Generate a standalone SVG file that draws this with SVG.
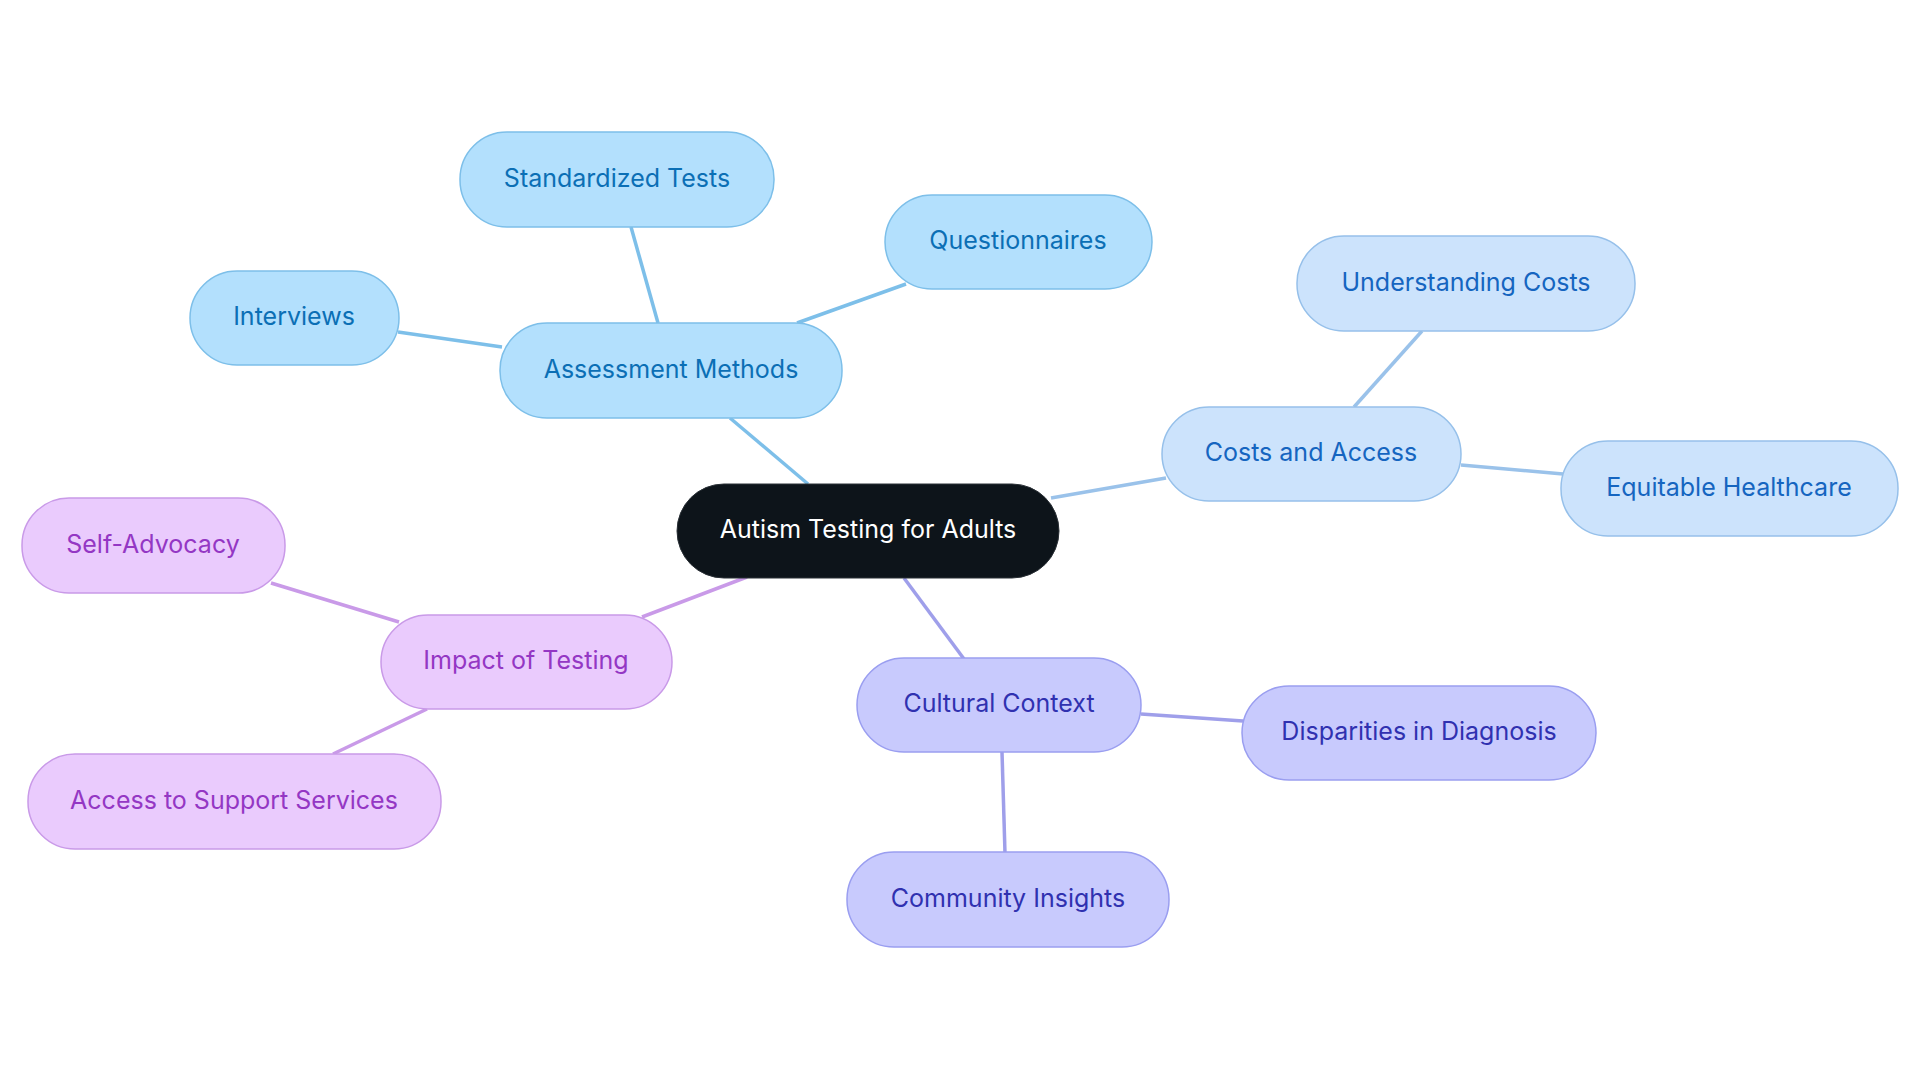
<svg xmlns="http://www.w3.org/2000/svg" width="1920" height="1083" viewBox="0 0 1920 1083">
<style>
text{font-family:Inter,"Noto Sans",sans-serif;font-size:25px;text-anchor:middle;dominant-baseline:central}
.n rect{stroke-width:1.5}
.a rect{fill:#b3e0fd;stroke:#7dbfe9}.a text{fill:#0b6fb5}
.c rect{fill:#cce3fc;stroke:#96c0ea}.c text{fill:#1565c0}
.u rect{fill:#c8cafd;stroke:#9a9ef0}.u text{fill:#3031b0}
.i rect{fill:#eacbfd;stroke:#c99ae8}.i text{fill:#9437c4}
#edges line{stroke-width:3.5;fill:none}
.ea{stroke:#7dbfe9}.ec{stroke:#9ac2ea}.eu{stroke:#9f9fea}.ei{stroke:#c99ae8}
</style>
<rect width="1920" height="1083" fill="#fff"/>
<g id="edges">
<line class="ea" x1="808" y1="484" x2="730" y2="418"/>
<line class="ea" x1="658" y1="323" x2="631" y2="227"/>
<line class="ea" x1="797" y1="323" x2="906" y2="284"/>
<line class="ea" x1="502" y1="347" x2="398" y2="332"/>
<line class="ec" x1="1051" y1="498" x2="1166" y2="478"/>
<line class="ec" x1="1354" y1="407" x2="1422" y2="331"/>
<line class="ec" x1="1461" y1="465" x2="1563" y2="474"/>
<line class="eu" x1="904" y1="578" x2="964" y2="659"/>
<line class="eu" x1="1141" y1="714" x2="1243" y2="721"/>
<line class="eu" x1="1002" y1="752" x2="1005" y2="853"/>
<line class="ei" x1="747" y1="577" x2="642" y2="617"/>
<line class="ei" x1="399" y1="622" x2="271" y2="583"/>
<line class="ei" x1="427" y1="709" x2="333" y2="754"/>
</g>
<g id="center"><rect x="677" y="484" width="382" height="94" rx="47" fill="#0d141a" stroke="#2a3036"/><text x="868" y="529" fill="#fff">Autism Testing for Adults</text></g>
<g id="assess" class="n a"><rect x="500" y="323" width="342" height="95" rx="47"/><text x="671" y="369">Assessment Methods</text></g>
<g id="standardized" class="n a"><rect x="460" y="132" width="314" height="95" rx="47"/><text x="617" y="178">Standardized Tests</text></g>
<g id="questionnaires" class="n a"><rect x="885" y="195" width="267" height="94" rx="47"/><text x="1018" y="240">Questionnaires</text></g>
<g id="interviews" class="n a"><rect x="190" y="271" width="209" height="94" rx="47"/><text x="294" y="316">Interviews</text></g>
<g id="costs" class="n c"><rect x="1162" y="407" width="299" height="94" rx="47"/><text x="1311" y="452">Costs and Access</text></g>
<g id="understanding" class="n c"><rect x="1297" y="236" width="338" height="95" rx="47"/><text x="1466" y="282">Understanding Costs</text></g>
<g id="equitable" class="n c"><rect x="1561" y="441" width="337" height="95" rx="47"/><text x="1729" y="487">Equitable Healthcare</text></g>
<g id="cultural" class="n u"><rect x="857" y="658" width="284" height="94" rx="47"/><text x="999" y="703">Cultural Context</text></g>
<g id="disparities" class="n u"><rect x="1242" y="686" width="354" height="94" rx="47"/><text x="1419" y="731">Disparities in Diagnosis</text></g>
<g id="community" class="n u"><rect x="847" y="852" width="322" height="95" rx="47"/><text x="1008" y="898">Community Insights</text></g>
<g id="impact" class="n i"><rect x="381" y="615" width="291" height="94" rx="47"/><text x="526" y="660">Impact of Testing</text></g>
<g id="selfadvocacy" class="n i"><rect x="22" y="498" width="263" height="95" rx="47"/><text x="153" y="544">Self-Advocacy</text></g>
<g id="access" class="n i"><rect x="28" y="754" width="413" height="95" rx="47"/><text x="234" y="800">Access to Support Services</text></g>
</svg>
